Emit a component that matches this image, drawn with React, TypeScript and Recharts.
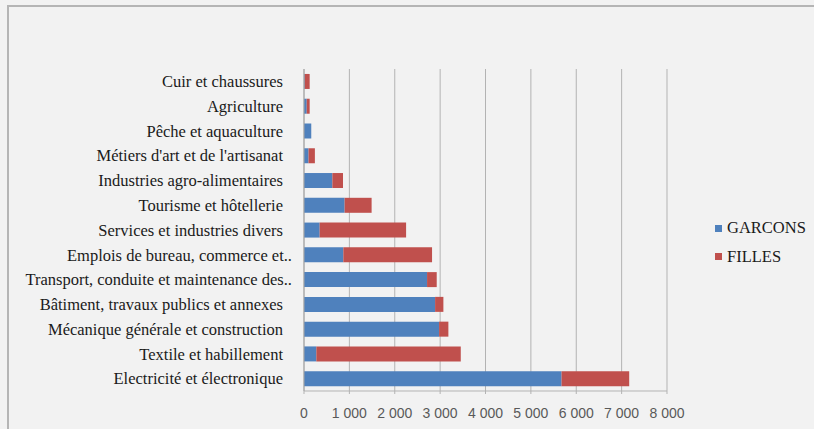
import { Bar, BarChart, CartesianGrid, XAxis, YAxis } from "recharts";

// Filières, from top to bottom of the chart
const filieres = [
    "Cuir et chaussures",
    "Agriculture",
    "Pêche et aquaculture",
    "Métiers d'art et de l'artisanat",
    "Industries agro-alimentaires",
    "Tourisme et hôtellerie",
    "Services et industries divers",
    "Emplois de bureau, commerce et…",
    "Transport, conduite et maintenance des…",
    "Bâtiment, travaux publics et annexes",
    "Mécanique générale et construction",
    "Textile et habillement",
    "Electricité et électronique",
];

const garcons = [15, 60, 160, 100, 625, 895, 345, 867, 2712, 2889, 2977, 272, 5676];
const filles = [110, 65, 0, 140, 235, 595, 1905, 1955, 213, 183, 205, 3183, 1491];

const xTicks = [0, 1000, 2000, 3000, 4000, 5000, 6000, 7000, 8000];

const series = [
    { key: "garcons", label: "GARCONS", color: "#4f81bd" },
    { key: "filles", label: "FILLES", color: "#c0504d" },
];

const data = filieres.map((name, i) => ({ name, garcons: garcons[i], filles: filles[i] }));

const thousands = (v: number) => String(v).replace(/\B(?=(\d{3})+(?!\d))/g, " ");

const serif = "'Liberation Serif', 'Times New Roman', serif";

// truncated labels spill a little past the others, like Excel does
function CategoryTick(props: any) {
    const { x, y, payload } = props;
    const label: string = payload.value;
    const cut = label.endsWith("…");
    return (
        <text
            x={x + (cut ? 9 : 0)}
            y={y}
            dy="0.35em"
            textAnchor="end"
            fill="#1a1a1a"
            fontSize={16.5}
            fontFamily={serif}
        >
            {cut ? label.slice(0, -1) + ".." : label}
        </text>
    );
}

export default function App() {
    return (
        <div style={{ position: "absolute", left: 0, top: 0, width: 814, height: 429, background: "#f2f2f2", overflow: "hidden" }}>
            <div style={{ position: "absolute", left: 7, top: 5, width: 1000, height: 1000, borderLeft: "2px solid #b5b5b5", borderTop: "2px solid #b5b5b5" }} />
            <div style={{ position: "absolute", left: 0, top: 0 }}>
                <BarChart
                    width={814}
                    height={429}
                    data={data}
                    layout="vertical"
                    barCategoryGap="20%"
                    margin={{ top: 69, right: 147, bottom: 0, left: 0 }}
                >
                    <CartesianGrid horizontal={false} stroke="#b3b3b3" />
                    <XAxis
                        type="number"
                        domain={[0, 8000]}
                        ticks={xTicks}
                        height={38}
                        tickFormatter={thousands}
                        stroke="#b3b3b3"
                        tickSize={3}
                        tickMargin={14}
                        tick={{ fill: "#595959", fontSize: 14, fontFamily: "'Liberation Sans', Arial, sans-serif" }}
                    />
                    <YAxis
                        type="category"
                        dataKey="name"
                        width={304}
                        stroke="#a6a6a6"
                        tickLine={false}
                        tickMargin={15}
                        interval={0}
                        tick={<CategoryTick />}
                    />
                    {series.map((s) => (
                        <Bar key={s.key} dataKey={s.key} stackId="a" fill={s.color} isAnimationActive={false} />
                    ))}
                </BarChart>
            </div>
            <div style={{ position: "absolute", left: 715, top: 214, fontFamily: serif, fontSize: 16.5, color: "#1a1a1a" }}>
                {series.map((s) => (
                    <div key={s.key} style={{ display: "flex", alignItems: "center", height: 28.5 }}>
                        <span style={{ width: 7, height: 7, background: s.color, marginRight: 5 }} />
                        {s.label}
                    </div>
                ))}
            </div>
        </div>
    );
}
